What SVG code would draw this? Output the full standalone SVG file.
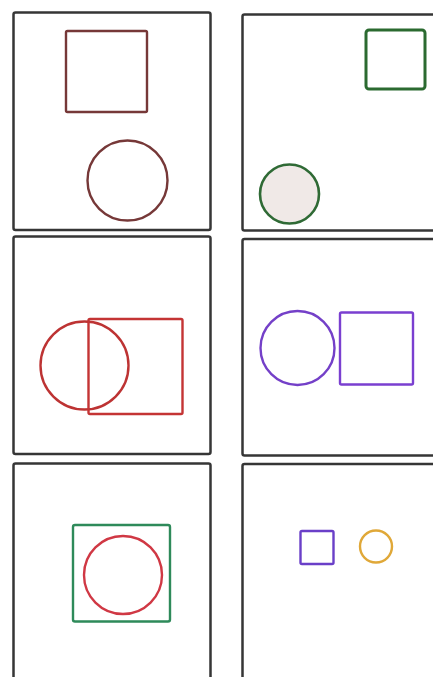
<svg xmlns="http://www.w3.org/2000/svg" width="433" height="677" viewBox="0 0 433 677">
<style>
.panel{fill:#fff;stroke:#363636;stroke-width:2.5}
.s{fill:none;stroke-width:2.4}
</style>
<rect width="433" height="677" fill="#fff"/>
<g id="panel1">
<rect class="panel" x="13.5" y="12.5" width="197" height="217.5" rx="2"/>
<rect class="s" x="66" y="31" width="81" height="81" rx="1.5" stroke="#763838"/>
<circle class="s" cx="127.5" cy="180.5" r="40" stroke="#763838"/>
</g>
<g id="panel2">
<rect class="panel" x="242.5" y="14.5" width="200" height="216" rx="2"/>
<rect x="366" y="30" width="59" height="59" rx="3" fill="none" stroke="#2b6a30" stroke-width="3"/>
<circle cx="289.5" cy="194" r="29.5" fill="#f0e9e7" stroke="#2f6a35" stroke-width="2.6"/>
</g>
<g id="panel3">
<rect class="panel" x="13.5" y="236.5" width="197" height="217.5" rx="2"/>
<circle class="s" cx="84.5" cy="365.5" r="44" stroke="#bd3333"/>
<rect class="s" x="88.5" y="319" width="94" height="95" rx="1.5" stroke="#c43434"/>
</g>
<g id="panel4">
<rect class="panel" x="242.5" y="239" width="200" height="216.5" rx="2"/>
<circle class="s" cx="297.5" cy="348" r="37" stroke="#7440c8"/>
<rect class="s" x="340" y="312.5" width="73" height="72" rx="1.5" stroke="#7a3fd0"/>
</g>
<g id="panel5">
<rect class="panel" x="13.5" y="463.5" width="197" height="230" rx="2"/>
<rect class="s" x="73" y="525" width="97" height="96.5" rx="2" stroke="#2e8a5a"/>
<circle class="s" cx="123" cy="575" r="39" stroke="#d03844"/>
</g>
<g id="panel6">
<rect class="panel" x="242.5" y="464" width="200" height="230" rx="2"/>
<rect class="s" x="300.5" y="531" width="33" height="33" rx="1.5" stroke="#6a3fc8"/>
<circle class="s" cx="376" cy="546.5" r="16" stroke="#e0a838" stroke-width="2.6"/>
</g>
<g id="connectors"></g>
</svg>
